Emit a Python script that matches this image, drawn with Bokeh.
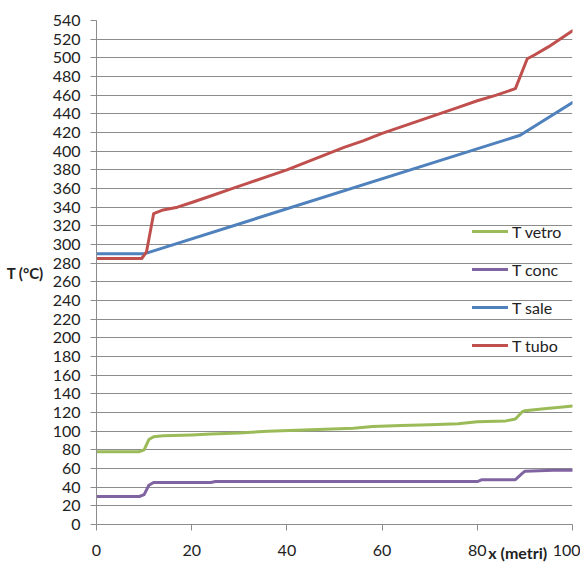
from bokeh.plotting import figure
from bokeh.models import Range1d, Legend, LegendItem, FixedTicker, LinearAxis
from bokeh.embed import file_html
from bokeh.resources import INLINE

# ---- data ----
x_tubo = [0, 9.5, 10.5, 12, 14, 17, 20, 24, 28, 32, 36, 40, 44, 48, 52, 56, 60, 64, 68, 72, 76, 80, 84, 88, 90.5, 92, 95, 100]
t_tubo = [285, 285, 292, 333, 337, 340, 345, 352, 359, 366, 373, 380, 388, 396, 404, 411, 419, 426, 433, 440, 447, 454, 460, 467, 499, 503, 512, 529]

x_sale = [0, 10, 89, 100]
t_sale = [290, 290, 417, 452]

x_vetro = [0, 9, 10, 11, 12, 14, 20, 24, 30, 36, 42, 48, 54, 58, 64, 70, 76, 80, 86, 88, 89.5, 90, 94, 98, 100]
t_vetro = [78, 78, 80, 91, 94, 95, 96, 97, 98, 100, 101, 102, 103, 105, 106, 107, 108, 110, 111, 113, 121, 122, 124, 126, 127]

x_conc = [0, 9, 10, 11, 12, 24, 25, 80, 81, 88, 89.5, 90, 96, 100]
t_conc = [30, 30, 32, 42, 45, 45, 46, 46, 48, 48, 55, 57, 58, 58]

x_ticks = [0, 20, 40, 60, 80, 100]
y_ticks = list(range(0, 541, 20))

series_names = ["T vetro", "T conc", "T sale", "T tubo"]
colors = ["#9BBB59", "#8064A2", "#4F81BD", "#C0504D"]
x_title = "x (metri)"
x_title_pos = 88.5
y_title = "T (°C)"

FONT = "Lato"

p = figure(width=580, height=564, output_backend="svg", toolbar_location=None,
           x_range=Range1d(0, 100), y_range=Range1d(0, 540),
           min_border_left=96, min_border_right=8, min_border_top=20, min_border_bottom=36)
p.outline_line_color = None
p.background_fill_color = "white"
p.border_fill_color = "white"

p.xgrid.grid_line_color = None
p.ygrid.grid_line_color = "#8c8c8c"
p.ygrid.grid_line_width = 1

p.xaxis.ticker = FixedTicker(ticks=x_ticks)
p.yaxis.ticker = FixedTicker(ticks=y_ticks)
for ax in (p.xaxis[0], p.yaxis[0]):
    ax.axis_line_color = "#8c8c8c"
    ax.major_tick_line_color = "#8c8c8c"
    ax.major_tick_in = 0
    ax.major_tick_out = 6
    ax.minor_tick_line_color = None
    ax.major_label_text_font = FONT
    ax.major_label_text_font_size = "16px"
    ax.major_label_text_color = "#222222"
p.xaxis.major_label_standoff = 14
p.yaxis.major_label_standoff = 10

# y-axis title, horizontal, left of the tick labels
p.yaxis.axis_label = y_title
p.yaxis.axis_label_orientation = "horizontal"
p.yaxis.axis_label_standoff = 6
p.yaxis.axis_label_text_font = FONT
p.yaxis.axis_label_text_font_size = "15px"
p.yaxis.axis_label_text_font_style = "bold"
p.yaxis.axis_label_text_color = "#222222"

# x-axis title drawn as the single label of a second, invisible axis
xt_axis = LinearAxis(ticker=FixedTicker(ticks=[x_title_pos]),
                     major_label_overrides={x_title_pos: x_title},
                     axis_line_color=None, major_tick_line_color=None,
                     minor_tick_line_color=None, major_tick_in=0, major_tick_out=0,
                     major_label_standoff=-16,
                     major_label_text_font=FONT, major_label_text_font_size="16px",
                     major_label_text_font_style="bold", major_label_text_color="#222222")
p.add_layout(xt_axis, "below")

renderers = []
for xs, ys, c in [(x_vetro, t_vetro, colors[0]), (x_conc, t_conc, colors[1]),
                  (x_sale, t_sale, colors[2]), (x_tubo, t_tubo, colors[3])]:
    r = p.line(xs, ys, line_color=c, line_width=3, line_join="round", line_cap="round")
    renderers.append(r)

legend = Legend(items=[LegendItem(label=n, renderers=[r]) for n, r in zip(series_names, renderers)],
                location=(376, 169), orientation="vertical",
                glyph_width=36, glyph_height=20, spacing=18, padding=0, margin=0,
                label_text_font=FONT, label_text_font_size="16px", label_text_color="#222222",
                label_standoff=4, border_line_color=None, background_fill_alpha=0)
p.add_layout(legend)

open("out.html", "w").write(file_html(p, INLINE))
